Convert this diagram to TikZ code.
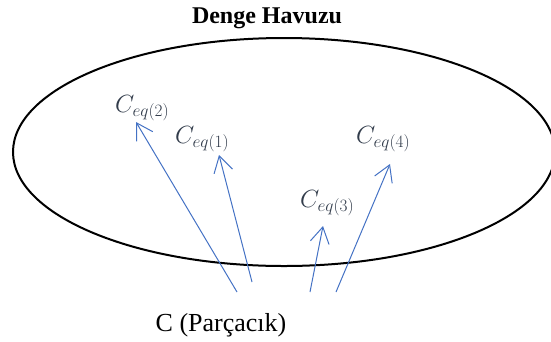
\documentclass[tikz,border=0pt]{standalone}
\usepackage{fontspec}
\setmainfont{Liberation Serif}
\usepackage{amsmath}
\usetikzlibrary{arrows.meta}
\definecolor{arrblue}{RGB}{68,114,196}
\definecolor{labgray}{RGB}{50,60,75}

\begin{document}
\begin{tikzpicture}[
  x=1pt, y=-1pt,
  pool/.style={draw, line width=2pt},
  arr/.style={-{Straight Barb[length=16pt, width=19pt]}, arrblue, line width=1pt},
  eqlab/.style={inner sep=0pt, anchor=base west, text=labgray, font=\fontsize{26}{30}\selectfont},
  txt/.style={inner sep=0pt, font=\fontsize{26}{30}\selectfont}
]
  \useasboundingbox (0,0) rectangle (551,341);

  \node[txt, font=\bfseries\fontsize{24}{28}\selectfont] (title) at (267,18) {Denge Havuzu};
  \draw[pool] (284,152) ellipse [x radius=271, y radius=114];

  \node[eqlab] (eq2) at (115,112) {$C_{eq(2)}$};
  \node[eqlab] (eq1) at (175,143) {$C_{eq(1)}$};
  \node[eqlab] (eq4) at (356,143) {$C_{eq(4)}$};
  \node[eqlab] (eq3) at (300,207) {$C_{eq(3)}$};

  \node[txt] (part) at (221,325) {C (Parçacık)};

  % particle side start points and tips under each label
  \coordinate (s2) at (237,292);  \coordinate (t2) at (136,122);
  \coordinate (s1) at (252,282);  \coordinate (t1) at (219,155);
  \coordinate (s3) at (310,292);  \coordinate (t3) at (323,226);
  \coordinate (s4) at (336,292);  \coordinate (t4) at (390,164);

  \draw[arr] (s2) -- (t2);
  \draw[arr] (s1) -- (t1);
  \draw[arr] (s3) -- (t3);
  \draw[arr] (s4) -- (t4);
\end{tikzpicture}
\end{document}
